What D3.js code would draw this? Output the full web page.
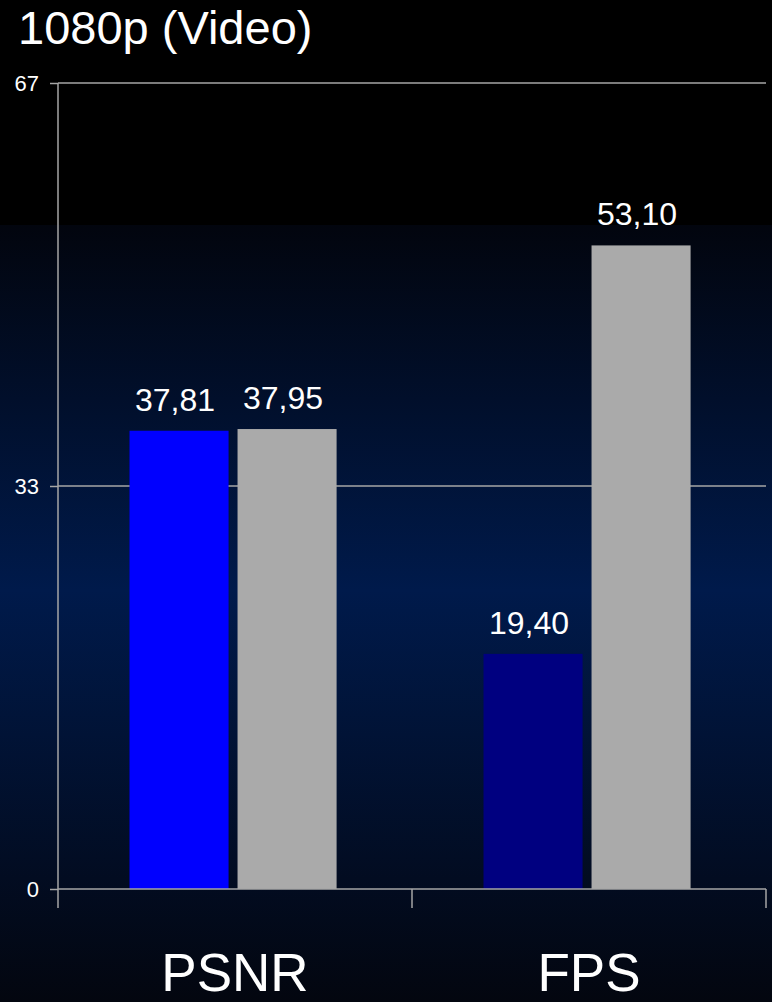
<!DOCTYPE html>
<html>
<head>
<meta charset="utf-8">
<script src="https://cdn.jsdelivr.net/npm/d3@7/dist/d3.min.js"></script>
<style>
  html, body { margin: 0; padding: 0; background: #000; }
  svg { display: block; }
  text { font-family: "Liberation Sans", Arial, sans-serif; fill: #fff; }
</style>
</head>
<body>
<svg id="chart" width="772" height="1002"></svg>
<script>
// Chart data
const title = "1080p (Video)";
const categories = ["PSNR", "FPS"];
const seriesKeys = ["a", "b"];
const seriesA = [37.81, 19.40];
const seriesB = [37.95, 53.10];
const seriesAColors = ["#0000ff", "#000080"];
const seriesBColor = "#aaaaaa";
const yMax = 66.5;
const yTickValues = [0, 33.25, 66.5];
const yTickLabels = ["0", "33", "67"];

const W = 772, H = 1002;
const plot = { left: 58, right: 766, top: 83, bottom: 889 };

const svg = d3.select("#chart");

// Background: black header, then a dark-to-navy-to-dark vertical gradient
const defs = svg.append("defs");
const grad = defs.append("linearGradient")
  .attr("id", "bg").attr("x1", 0).attr("y1", 0).attr("x2", 0).attr("y2", 1);
grad.append("stop").attr("offset", 0).attr("stop-color", "#02050e");
grad.append("stop").attr("offset", 0.47).attr("stop-color", "#001a4b");
grad.append("stop").attr("offset", 1).attr("stop-color", "#03060f");

svg.append("rect").attr("width", W).attr("height", H).attr("fill", "#000");
svg.append("rect").attr("x", 0).attr("y", 225).attr("width", W).attr("height", H - 225)
  .attr("fill", "url(#bg)");

// Scales
const x0 = d3.scaleBand().domain(categories).range([plot.left, plot.right]);
const bw = x0.bandwidth();
const x1 = d3.scaleBand().domain(seriesKeys)
  .range([bw * 0.202, bw * 0.787]).paddingInner(0.083);
const y = d3.scaleLinear().domain([0, yMax]).range([plot.bottom, plot.top]);

const axisColor = "#a6a6a6";

// Horizontal gridlines
svg.append("g").selectAll("line").data(yTickValues.slice(1)).join("line")
  .attr("x1", plot.left).attr("x2", plot.right)
  .attr("y1", d => y(d)).attr("y2", d => y(d))
  .attr("stroke", axisColor).attr("stroke-width", 1.5);

// Y axis
const yAxis = d3.axisLeft(y).tickValues(yTickValues)
  .tickFormat((d, i) => yTickLabels[i]).tickSize(8).tickPadding(11);
const gy = svg.append("g").attr("transform", `translate(${plot.left},0)`).call(yAxis);
gy.attr("font-size", null).attr("font-family", null);
gy.select(".domain").remove();
gy.selectAll(".tick line").attr("stroke", axisColor).attr("stroke-width", 1.5);
gy.selectAll(".tick text")
  .style("font-size", "22px").style("fill", "#fff")
  .style("font-family", "'Liberation Sans', Arial, sans-serif");
svg.append("line")
  .attr("x1", plot.left).attr("x2", plot.left)
  .attr("y1", plot.top).attr("y2", plot.bottom + 19)
  .attr("stroke", axisColor).attr("stroke-width", 1.5);

// Bars
const data = categories.map((c, i) => ({
  cat: c,
  values: [
    { key: "a", v: seriesA[i], color: seriesAColors[i] },
    { key: "b", v: seriesB[i], color: seriesBColor }
  ]
}));

const fmt = d3.formatLocale({ decimal: ",", thousands: ".", grouping: [3], currency: ["", ""] }).format(".2f");

const groups = svg.append("g").selectAll("g").data(data).join("g")
  .attr("transform", d => `translate(${x0(d.cat)},0)`);

groups.selectAll("rect").data(d => d.values).join("rect")
  .attr("x", d => x1(d.key))
  .attr("width", x1.bandwidth())
  .attr("y", d => y(d.v))
  .attr("height", d => y(0) - y(d.v))
  .attr("fill", d => d.color);

groups.selectAll("text.val").data(d => d.values).join("text")
  .attr("class", "val")
  .attr("x", d => x1(d.key) + x1.bandwidth() / 2 - 4)
  .attr("y", d => y(d.v) - 20)
  .attr("text-anchor", "middle")
  .attr("font-size", 32)
  .text(d => fmt(d.v));

// X axis baseline with ticks at category boundaries
svg.append("line")
  .attr("x1", plot.left).attr("x2", plot.right)
  .attr("y1", y(0)).attr("y2", y(0))
  .attr("stroke", axisColor).attr("stroke-width", 1.5);
const boundaries = categories.map(c => x0(c) + bw).filter(v => v > plot.left);
svg.append("g").selectAll("line").data(boundaries).join("line")
  .attr("x1", d => d).attr("x2", d => d)
  .attr("y1", y(0)).attr("y2", y(0) + 19)
  .attr("stroke", axisColor).attr("stroke-width", 1.5);

// Category labels
svg.append("g").selectAll("text").data(categories).join("text")
  .attr("x", d => x0(d) + bw / 2)
  .attr("y", 991)
  .attr("text-anchor", "middle")
  .attr("font-size", 53)
  .text(d => d);

// Title
svg.append("text")
  .attr("x", 18).attr("y", 44)
  .attr("font-size", 47)
  .text(title);
</script>
</body>
</html>
